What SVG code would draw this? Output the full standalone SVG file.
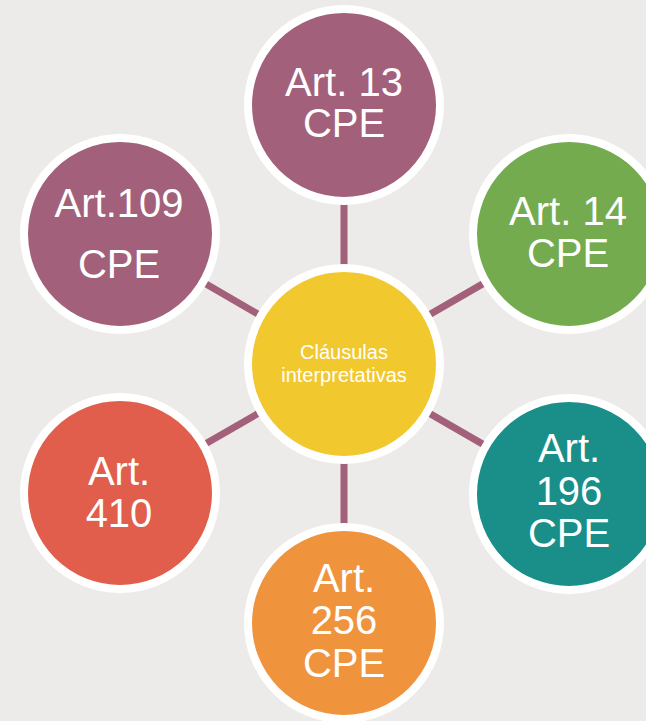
<svg xmlns="http://www.w3.org/2000/svg" width="646" height="721" viewBox="0 0 646 721">
<style>
.node{stroke:#FFFFFF;stroke-width:8}
.lbl{font-family:"Liberation Sans",Arial,sans-serif;font-size:40px;fill:#FFFFFF;text-anchor:middle}
.ctr{font-family:"Liberation Sans",Arial,sans-serif;font-size:20px;fill:#FFFFFF;text-anchor:middle}
.con{stroke:#A3607A;stroke-width:7;fill:none}
</style>
<rect width="646" height="721" fill="#EDEBE9"/>
<g id="connectors">
<line class="con" x1="344" y1="364" x2="344" y2="105"/>
<line class="con" x1="344" y1="364" x2="569" y2="234"/>
<line class="con" x1="344" y1="364" x2="569" y2="494"/>
<line class="con" x1="344" y1="364" x2="344" y2="623"/>
<line class="con" x1="344" y1="364" x2="120" y2="493"/>
<line class="con" x1="344" y1="364" x2="120" y2="234"/>
</g>
<g id="art13">
<circle class="node" cx="344" cy="105" r="96" fill="#A3607A"/>
<text class="lbl" x="344" y="96">Art. 13</text>
<text class="lbl" x="344" y="137">CPE</text>
</g>
<g id="art14">
<circle class="node" cx="569" cy="234" r="96" fill="#75AB4F"/>
<text class="lbl" x="568" y="225">Art. 14</text>
<text class="lbl" x="568" y="267">CPE</text>
</g>
<g id="art196">
<circle class="node" cx="569" cy="494" r="96" fill="#1A8F8A"/>
<text class="lbl" x="569" y="462">Art.</text>
<text class="lbl" x="569" y="505">196</text>
<text class="lbl" x="569" y="547">CPE</text>
</g>
<g id="art256">
<circle class="node" cx="344" cy="623" r="96" fill="#EF943D"/>
<text class="lbl" x="344" y="592">Art.</text>
<text class="lbl" x="344" y="634">256</text>
<text class="lbl" x="344" y="677">CPE</text>
</g>
<g id="art410">
<circle class="node" cx="120" cy="493" r="96" fill="#E05E4B"/>
<text class="lbl" x="119" y="485">Art.</text>
<text class="lbl" x="119" y="527">410</text>
</g>
<g id="art109">
<circle class="node" cx="120" cy="234" r="96" fill="#A3607A"/>
<text class="lbl" x="119" y="217">Art.109</text>
<text class="lbl" x="119" y="278">CPE</text>
</g>
<g id="center">
<circle class="node" cx="344" cy="364" r="96" fill="#F2C82F"/>
<text class="ctr" x="344" y="359">Cláusulas</text>
<text class="ctr" x="344" y="382">interpretativas</text>
</g>
</svg>
